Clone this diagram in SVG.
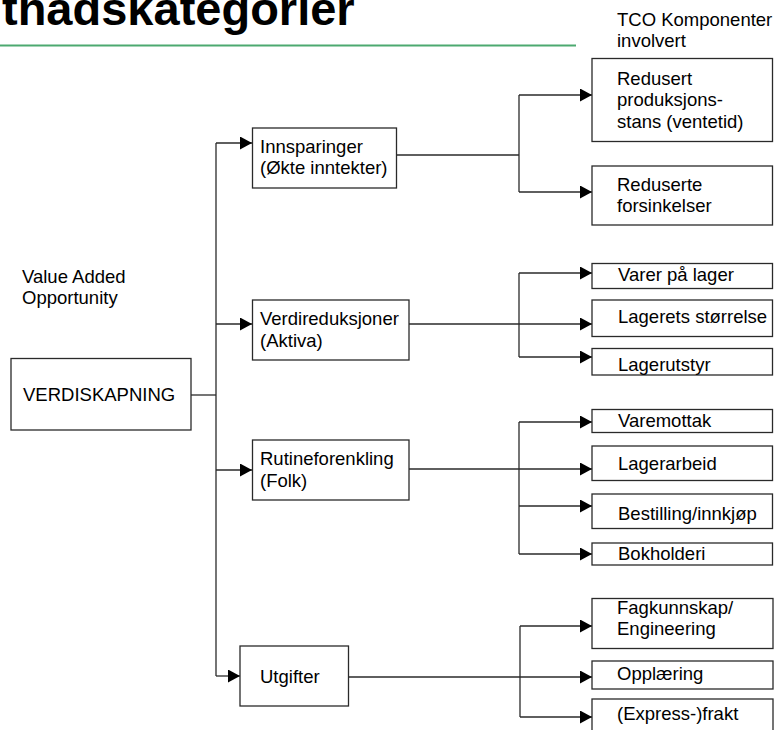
<svg xmlns="http://www.w3.org/2000/svg" width="776" height="730" viewBox="0 0 776 730">
<style>
text{font-family:"Liberation Sans",Arial,sans-serif;font-size:18.5px;fill:#000}
.title{font-size:47px;font-weight:bold}
.box{fill:#fff;stroke:#2a2a2a;stroke-width:1.3}
.ln{fill:none;stroke:#2a2a2a;stroke-width:1.3}
</style>
<defs>
<marker id="ah" markerWidth="12" markerHeight="13" refX="12" refY="6.5" orient="auto" markerUnits="userSpaceOnUse">
<path d="M0,0 L12,6.5 L0,13 Z" fill="#000"/>
</marker>
</defs>
<rect width="776" height="730" fill="#fff"/>
<text class="title" x="2" y="25">thadskategorier</text>
<line x1="0" y1="45.5" x2="576" y2="45.5" stroke="#4CA970" stroke-width="2"/>
<text x="617" y="26">TCO Komponenter</text>
<text x="617" y="47">involvert</text>
<text x="22" y="283">Value Added</text>
<text x="22" y="304">Opportunity</text>

<g id="connectors">
<path class="ln" d="M191,395 H216"/>
<path class="ln" d="M216,143 V676"/>
<path class="ln" d="M216,143 H252" marker-end="url(#ah)"/>
<path class="ln" d="M216,324 H252" marker-end="url(#ah)"/>
<path class="ln" d="M216,470 H252" marker-end="url(#ah)"/>
<path class="ln" d="M216,676 H240" marker-end="url(#ah)"/>

<path class="ln" d="M397,155 H519"/>
<path class="ln" d="M519,95 V192"/>
<path class="ln" d="M519,95 H592" marker-end="url(#ah)"/>
<path class="ln" d="M519,192 H592" marker-end="url(#ah)"/>

<path class="ln" d="M519,273 V357"/>
<path class="ln" d="M519,273 H592" marker-end="url(#ah)"/>
<path class="ln" d="M409,324 H592" marker-end="url(#ah)"/>
<path class="ln" d="M519,357 H592" marker-end="url(#ah)"/>

<path class="ln" d="M519,422 V554"/>
<path class="ln" d="M519,422 H592" marker-end="url(#ah)"/>
<path class="ln" d="M409,469 H592" marker-end="url(#ah)"/>
<path class="ln" d="M519,506 H592" marker-end="url(#ah)"/>
<path class="ln" d="M519,554 H592" marker-end="url(#ah)"/>

<path class="ln" d="M520,626 V717"/>
<path class="ln" d="M520,626 H592" marker-end="url(#ah)"/>
<path class="ln" d="M348,677 H592" marker-end="url(#ah)"/>
<path class="ln" d="M520,717 H592" marker-end="url(#ah)"/>
</g>

<g id="n-verdiskapning"><rect class="box" x="11" y="358.5" width="180" height="71.5"/><text x="23" y="401">VERDISKAPNING</text></g>
<g id="n-innsparinger"><rect class="box" x="252.5" y="128" width="144" height="60"/><text x="260" y="153">Innsparinger</text><text x="260" y="174">(Økte inntekter)</text></g>
<g id="n-verdireduksjoner"><rect class="box" x="252.5" y="300" width="156.5" height="60"/><text x="260" y="325">Verdireduksjoner</text><text x="260" y="346.5">(Aktiva)</text></g>
<g id="n-rutineforenkling"><rect class="box" x="252.5" y="440" width="156.5" height="60"/><text x="260" y="465">Rutineforenkling</text><text x="260" y="486.5">(Folk)</text></g>
<g id="n-utgifter"><rect class="box" x="240" y="646" width="108.5" height="60"/><text x="260" y="683">Utgifter</text></g>

<g id="n-redusert"><rect class="box" x="592" y="58.5" width="180.5" height="83"/><text x="617" y="85">Redusert</text><text x="617" y="106">produksjons-</text><text x="617" y="127.5">stans (ventetid)</text></g>
<g id="n-reduserte"><rect class="box" x="592" y="166" width="180.5" height="59"/><text x="617" y="190.5">Reduserte</text><text x="617" y="211.5">forsinkelser</text></g>

<g id="n-varer"><rect class="box" x="592" y="263.5" width="180.5" height="25"/><text x="618" y="281">Varer på lager</text></g>
<g id="n-lagerets"><rect class="box" x="592" y="300" width="180.5" height="36.5"/><text x="618" y="323">Lagerets størrelse</text></g>
<g id="n-lagerutstyr"><rect class="box" x="592" y="348.5" width="180.5" height="26.5"/><text x="618" y="371">Lagerutstyr</text></g>

<g id="n-varemottak"><rect class="box" x="592" y="409.5" width="180.5" height="23"/><text x="618" y="427">Varemottak</text></g>
<g id="n-lagerarbeid"><rect class="box" x="592" y="446" width="180.5" height="34.5"/><text x="618" y="470">Lagerarbeid</text></g>
<g id="n-bestilling"><rect class="box" x="592" y="494" width="180.5" height="34.5"/><text x="618" y="519.5">Bestilling/innkjøp</text></g>
<g id="n-bokholderi"><rect class="box" x="592" y="543" width="180.5" height="22"/><text x="618" y="560">Bokholderi</text></g>

<g id="n-fagkunnskap"><rect class="box" x="592" y="598.5" width="181" height="50"/><text x="617" y="613.5">Fagkunnskap/</text><text x="617" y="635">Engineering</text></g>
<g id="n-opplaering"><rect class="box" x="592" y="661" width="181" height="28"/><text x="617" y="680">Opplæring</text></g>
<g id="n-express"><rect class="box" x="592" y="699" width="181" height="40"/><text x="617" y="719.5">(Express-)frakt</text></g>
</svg>
